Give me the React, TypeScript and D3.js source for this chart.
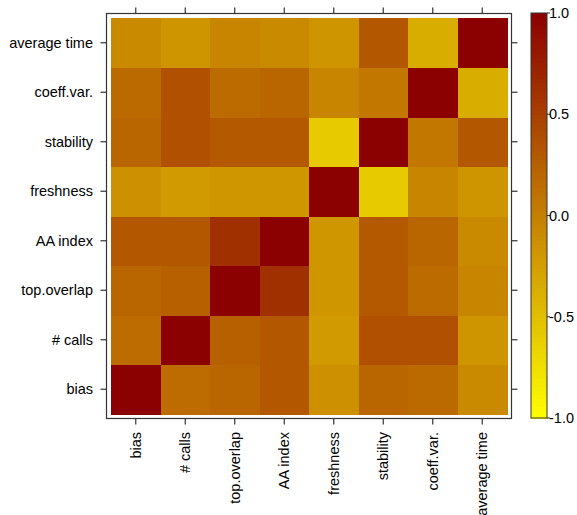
import React from "react";
import * as d3 from "d3";

const variables = ["bias", "# calls", "top.overlap", "AA index", "freshness", "stability", "coeff.var.", "average time"];

const corrBias = [1, 0.15, 0.2, 0.31, -0.13, 0.2, 0.17, -0.08];
const corrCalls = [0.15, 1, 0.25, 0.31, -0.21, 0.37, 0.37, -0.17];
const corrTop = [0.2, 0.25, 1, 0.62, -0.18, 0.3, 0.16, -0.04];
const corrAA = [0.31, 0.31, 0.62, 1, -0.18, 0.3, 0.21, -0.08];
const corrFresh = [-0.13, -0.21, -0.18, -0.18, 1, -0.59, -0.05, -0.17];
const corrStab = [0.2, 0.37, 0.3, 0.3, -0.59, 1, 0.07, 0.31];
const corrCoeff = [0.17, 0.37, 0.16, 0.21, -0.05, 0.07, 1, -0.35];
const corrAvg = [-0.08, -0.17, -0.04, -0.08, -0.17, 0.31, -0.35, 1];

const matrix = [corrBias, corrCalls, corrTop, corrAA, corrFresh, corrStab, corrCoeff, corrAvg];

const colorTicks = [-1, -0.5, 0, 0.5, 1];

export default function App() {
  const cellL = 111, cellR = 507, cellT = 18, cellB = 414;
  const pad = 4.5;
  const font = "'Liberation Sans', Arial, sans-serif";
  const fs = 14.5;

  const x = d3.scaleBand<string>().domain(variables).range([cellL, cellR]);
  const y = d3.scaleBand<string>().domain(variables).range([cellB, cellT]);
  const color = d3.scaleLinear<string>().domain([-1, 1]).range(["#FFFF00", "#8B0000"]).interpolate(d3.interpolateRgb);

  const cbL = 531, cbR = 547, cbT = 13, cbB = 418;
  const cbY = d3.scaleLinear().domain([-1, 1]).range([cbB, cbT]);
  const nSteps = 100;
  const steps = d3.range(nSteps).map((i) => -1 + (2 * (i + 0.5)) / nSteps);

  const bx0 = cellL - pad, bx1 = cellR + pad, by0 = cellT - pad, by1 = cellB + pad;
  const tick = 6;

  return (
    <svg width={577} height={515} style={{ position: "absolute", left: 0, top: 0, background: "#fff" }}>
      {matrix.map((row, i) =>
        row.map((v, j) => (
          <rect
            key={`${i}-${j}`}
            x={x(variables[j])}
            y={y(variables[i])}
            width={x.bandwidth() + 0.5}
            height={y.bandwidth() + 0.5}
            fill={color(v)}
            shapeRendering="crispEdges"
          />
        ))
      )}
      <rect x={bx0} y={by0} width={bx1 - bx0} height={by1 - by0} fill="none" stroke="#333" strokeWidth={1.2} />
      {variables.map((v) => {
        const cx = (x(v) as number) + x.bandwidth() / 2;
        const cy = (y(v) as number) + y.bandwidth() / 2;
        return (
          <g key={v}>
            <line x1={bx0 - tick} x2={bx0} y1={cy} y2={cy} stroke="#333" strokeWidth={1.2} />
            <line x1={bx1} x2={bx1 + tick} y1={cy} y2={cy} stroke="#333" strokeWidth={1.2} />
            <line x1={cx} x2={cx} y1={by0 - tick} y2={by0} stroke="#333" strokeWidth={1.2} />
            <line x1={cx} x2={cx} y1={by1} y2={by1 + tick} stroke="#333" strokeWidth={1.2} />
            <text x={93} y={cy} dy="0.35em" textAnchor="end" fontFamily={font} fontSize={fs} fill="#000">
              {v}
            </text>
            <text
              transform={`translate(${cx},432) rotate(-90)`}
              dy="0.35em"
              textAnchor="end"
              fontFamily={font}
              fontSize={fs}
              fill="#000"
            >
              {v}
            </text>
          </g>
        );
      })}
      {steps.map((s, i) => (
        <rect
          key={i}
          x={cbL}
          y={cbY(s + 1 / nSteps)}
          width={cbR - cbL}
          height={(cbB - cbT) / nSteps + 1}
          fill={color(s)}
          shapeRendering="crispEdges"
        />
      ))}
      <rect x={cbL} y={cbT} width={cbR - cbL} height={cbB - cbT} fill="none" stroke="#333" strokeWidth={1} />
      {colorTicks.map((t) => (
        <g key={t}>
          <line x1={cbR} x2={cbR + 3} y1={cbY(t)} y2={cbY(t)} stroke="#333" strokeWidth={1} />
          <text x={549} y={cbY(t)} dy="0.35em" fontFamily={font} fontSize={fs} fill="#000">
            {d3.format(".1f")(t).replace("−", "-")}
          </text>
        </g>
      ))}
    </svg>
  );
}
